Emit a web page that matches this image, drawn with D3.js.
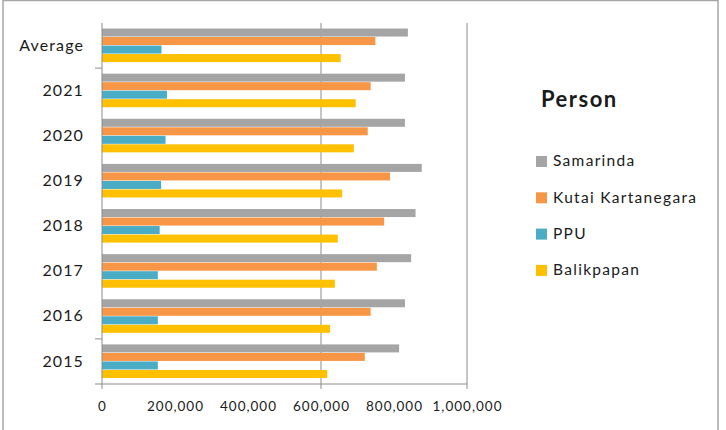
<!DOCTYPE html>
<html>
<head>
<meta charset="utf-8">
<script src="https://cdn.jsdelivr.net/npm/d3@7"></script>
<style>
  body { margin: 0; background: #fff; }
  text { font-family: Lato, "Open Sans", sans-serif; fill: #1a1a1a; }
</style>
</head>
<body>
<div id="chart"></div>
<script>
// data
const categories = ["Average", "2021", "2020", "2019", "2018", "2017", "2016", "2015"];
const seriesNames = ["Samarinda", "Kutai Kartanegara", "PPU", "Balikpapan"];
const samarinda  = [838000, 830000, 830000, 876000, 859000, 847000, 830000, 814000];
const kutai      = [749000, 736000, 728000, 789000, 773000, 753000, 736000, 720000];
const ppu        = [163000, 178000, 174000, 162000, 158000, 153000, 153000, 153000];
const balikpapan = [654000, 695000, 690000, 658000, 646000, 638000, 625000, 617000];
const xTicks = [0, 200000, 400000, 600000, 800000, 1000000];
const legendTitle = "Person";

const seriesValues = [samarinda, kutai, ppu, balikpapan];
const colors = ["#a5a5a5", "#f79646", "#4bacc6", "#ffc000"];

const width = 726, height = 430;
const mLeft = 102, mRight = 467, mTop = 23, mBottom = 384;

const svg = d3.select("#chart")
    .append("svg")
    .attr("width", width)
    .attr("height", height);

// outer frame
svg.append("rect")
    .attr("x", 3).attr("y", 0.5)
    .attr("width", 715).attr("height", 440)
    .attr("fill", "none")
    .attr("stroke", "#a6a6a6")
    .attr("stroke-width", 1.5);

const x = d3.scaleLinear()
    .domain([0, 1000000])
    .range([mLeft, mRight]);

const y = d3.scaleBand()
    .domain(categories)
    .range([mTop, mBottom])
    .paddingInner(0.245)
    .paddingOuter(0.1225);

const ySub = d3.scaleBand()
    .domain(seriesNames)
    .range([0, y.bandwidth()]);

// grid lines (only these show in the original)
svg.selectAll("line.grid")
    .data([600000, 1000000])
    .enter()
    .append("line")
    .attr("class", "grid")
    .attr("x1", d => x(d)).attr("x2", d => x(d))
    .attr("y1", mTop).attr("y2", mBottom + 5)
    .attr("stroke", "#8c8c8c");

svg.append("line")
    .attr("x1", x(0)).attr("x2", x(0))
    .attr("y1", mBottom).attr("y2", mBottom + 5)
    .attr("stroke", "#8c8c8c");

// bars
const rows = [];
categories.forEach((c, i) => {
    seriesNames.forEach((s, j) => {
        rows.push({cat: c, serie: s, value: seriesValues[j][i], color: colors[j]});
    });
});

svg.selectAll("rect.bar")
    .data(rows)
    .enter()
    .append("rect")
    .attr("class", "bar")
    .attr("x", x(0))
    .attr("y", d => y(d.cat) + ySub(d.serie))
    .attr("width", d => x(d.value) - x(0))
    .attr("height", ySub.bandwidth() - 0.5)
    .attr("fill", d => d.color);

// axes lines
svg.append("line")
    .attr("x1", x(0)).attr("x2", x(0))
    .attr("y1", mTop).attr("y2", mBottom)
    .attr("stroke", "#8c8c8c");

svg.append("line")
    .attr("x1", x(0) - 7).attr("x2", mRight)
    .attr("y1", mBottom).attr("y2", mBottom)
    .attr("stroke", "#8c8c8c");

// the two category ticks visible in the original
svg.selectAll("line.ytick")
    .data(["Average", "2016"])
    .enter()
    .append("line")
    .attr("class", "ytick")
    .attr("x1", x(0) - 7).attr("x2", x(0))
    .attr("y1", d => y(d) + y.bandwidth() + y.step() * y.paddingInner() / 2)
    .attr("y2", d => y(d) + y.bandwidth() + y.step() * y.paddingInner() / 2)
    .attr("stroke", "#8c8c8c");

// x labels
const xAxis = svg.append("g")
    .attr("transform", `translate(0,${mBottom})`)
    .call(d3.axisBottom(x).tickValues(xTicks).tickSize(0).tickPadding(17).tickFormat(d3.format(",")));
xAxis.select(".domain").remove();
xAxis.selectAll("text")
    .style("font-size", "13.5px")
    .style("letter-spacing", "1px");

// category labels
const yAxis = svg.append("g")
    .attr("transform", `translate(${mLeft},0)`)
    .call(d3.axisLeft(y).tickSize(0).tickPadding(18));
yAxis.select(".domain").remove();
yAxis.selectAll("text")
    .style("font-size", "16px")
    .style("letter-spacing", "1.1px");

// legend
svg.append("text")
    .attr("x", 541)
    .attr("y", 107)
    .style("font-size", "22px")
    .style("font-weight", "bold")
    .style("letter-spacing", "1.5px")
    .text(legendTitle);

const legend = svg.selectAll("g.legend")
    .data(seriesNames)
    .enter()
    .append("g")
    .attr("class", "legend")
    .attr("transform", (d, i) => `translate(536,${161 + i * 36.3})`);

legend.append("rect")
    .attr("x", 0).attr("y", -5)
    .attr("width", 11).attr("height", 11)
    .attr("fill", (d, i) => colors[i]);

legend.append("text")
    .attr("x", 17)
    .attr("y", 0)
    .attr("dy", "0.35em")
    .style("font-size", "15.5px")
    .style("letter-spacing", "1.3px")
    .text(d => d);
</script>
</body>
</html>
